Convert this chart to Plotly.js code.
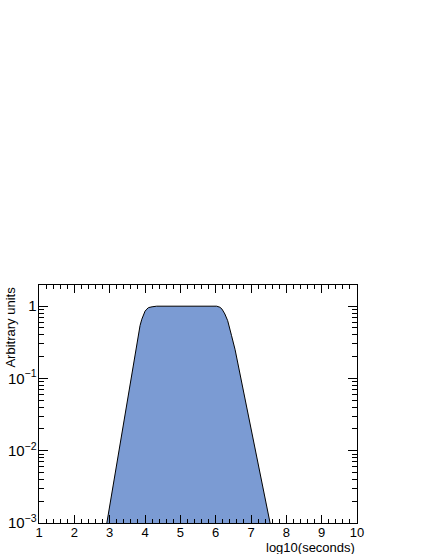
<!DOCTYPE html>
<html>
<head>
<meta charset="utf-8">
<script src="https://cdn.plot.ly/plotly-3.0.1.min.js"></script>
<style>
  html, body { margin: 0; padding: 0; background: #ffffff; }
  #plot { width: 428px; height: 554px; }
</style>
</head>
<body>
<div id="plot"></div>
<script>
// Distribution (x in log10 seconds, y in arbitrary units)
const logSeconds = [2.92, 3.81, 3.86, 3.91, 3.96, 4.00, 4.05, 4.10, 4.20, 4.33,
                    6.03, 6.08, 6.12, 6.18, 6.26, 6.34, 6.41, 6.45, 6.55, 7.54];
const units = [0.001, 0.43, 0.54, 0.66, 0.78, 0.85, 0.91, 0.955, 0.98, 1.0,
               1.0, 0.99, 0.966, 0.91, 0.78, 0.63, 0.48, 0.39, 0.25, 0.001];

const xTicks = [1, 2, 3, 4, 5, 6, 7, 8, 9, 10];

const font = 'Liberation Sans, Arial, sans-serif';

const trace = {
  x: logSeconds,
  y: units,
  type: 'scatter',
  mode: 'lines',
  fill: 'toself',
  fillcolor: '#7b9bd3',
  line: { color: '#000000', width: 1 },
  hoverinfo: 'skip',
};

const layout = {
  width: 428,
  height: 554,
  margin: { l: 39, r: 71, t: 285, b: 31 },
  paper_bgcolor: '#ffffff',
  plot_bgcolor: '#ffffff',
  showlegend: false,
  xaxis: {
    range: [1, 10],
    tickvals: xTicks,
    ticktext: xTicks.map(String),
    ticks: 'inside',
    ticklen: 8,
    tickcolor: '#000000',
    showline: true,
    linecolor: '#000000',
    linewidth: 1,
    mirror: 'allticks',
    showgrid: false,
    zeroline: false,
    ticklabelstandoff: -3,
    tickfont: { family: font, size: 13, color: '#000000' },
    minor: { dtick: 0.2, ticks: 'inside', ticklen: 4, tickcolor: '#000000', showgrid: false },
  },
  yaxis: {
    type: 'log',
    range: [-3, 0.293],
    dtick: 1,
    exponentformat: 'power',
    ticks: 'inside',
    ticklen: 9,
    tickcolor: '#000000',
    showline: true,
    linecolor: '#000000',
    linewidth: 1,
    mirror: 'allticks',
    showgrid: false,
    zeroline: false,
    ticklabelstandoff: -1,
    tickfont: { family: font, size: 12, color: '#000000' },
    minor: { dtick: 'D1', ticks: 'inside', ticklen: 5, tickcolor: '#000000', showgrid: false },
  },
  annotations: [
    {
      text: 'log10(seconds)',
      xref: 'paper', yref: 'paper',
      x: 1, y: -0.104,
      xanchor: 'right', yanchor: 'middle',
      showarrow: false,
      font: { family: font, size: 13, color: '#000000' },
    },
    {
      text: 'Arbitrary units',
      xref: 'paper', yref: 'paper',
      x: -0.091, y: 1,
      xanchor: 'center', yanchor: 'top',
      textangle: -90,
      showarrow: false,
      font: { family: font, size: 13, color: '#000000' },
    },
  ],
};

Plotly.newPlot('plot', [trace], layout, { displayModeBar: false, staticPlot: true });
</script>
</body>
</html>
